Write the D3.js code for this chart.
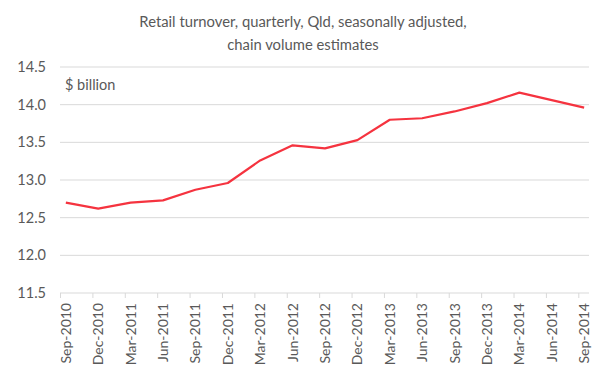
<!DOCTYPE html>
<html>
<head>
<meta charset="utf-8">
<script src="https://cdn.jsdelivr.net/npm/d3@7"></script>
<style>
  body { margin: 0; background: #fff; }
  svg text { font-family: Lato, "Open Sans", sans-serif; fill: #595959; }
</style>
</head>
<body>
<svg id="chart" width="604" height="377"></svg>
<script>
// quarter labels and values ($ billion)
var quarters = ['Sep-2010', 'Dec-2010', 'Mar-2011', 'Jun-2011', 'Sep-2011', 'Dec-2011',
	'Mar-2012', 'Jun-2012', 'Sep-2012', 'Dec-2012', 'Mar-2013', 'Jun-2013',
	'Sep-2013', 'Dec-2013', 'Mar-2014', 'Jun-2014', 'Sep-2014'];
var turnover = [12.70, 12.62, 12.70, 12.73, 12.87, 12.96,
	13.26, 13.46, 13.42, 13.53, 13.80, 13.82,
	13.91, 14.02, 14.16, 14.06, 13.96];
var yTicks = [11.5, 12.0, 12.5, 13.0, 13.5, 14.0, 14.5];
var titleLines = ['Retail turnover, quarterly, Qld, seasonally adjusted,', 'chain volume estimates'];
var unitLabel = '$ billion';

var chart = {
	left: 60,
	right: 589,
	top: 67,
	bottom: 293,
	init: function() {
		var svg = d3.select('#chart');

		// index scale: ticks on whole quarters, points sit a bit after the tick
		var x = d3.scaleLinear()
			.domain([0, quarters.length - 0.67])
			.range([chart.left, chart.right]);
		var shift = 0.18;

		var y = d3.scaleLinear()
			.domain([11.5, 14.5])
			.range([chart.bottom, chart.top]);

		// title
		svg.selectAll('text.title')
			.data(titleLines)
			.enter().append('text')
			.attr('class', 'title')
			.attr('x', 303)
			.attr('y', function(d, i) { return 27 + i * 23; })
			.attr('text-anchor', 'middle')
			.style('font-size', '14.8px')
			.text(function(d) { return d; });

		// gridlines
		svg.append('g')
			.selectAll('line')
			.data(yTicks.slice(1))
			.enter().append('line')
			.attr('x1', chart.left)
			.attr('x2', chart.right)
			.attr('y1', function(d) { return y(d); })
			.attr('y2', function(d) { return y(d); })
			.attr('stroke', '#d9d9d9')
			.attr('stroke-width', 1);

		// y labels
		var yAxis = svg.append('g')
			.attr('transform', 'translate(' + chart.left + ',0)')
			.call(d3.axisLeft(y).tickValues(yTicks).tickSize(0).tickPadding(14).tickFormat(d3.format('.1f')));
		yAxis.select('.domain').remove();
		yAxis.selectAll('text')
			.style('font-size', '14.5px')
			.attr('fill', '#595959');

		// x axis
		var xAxis = svg.append('g')
			.attr('transform', 'translate(0,' + chart.bottom + ')')
			.call(d3.axisBottom(x).tickValues(d3.range(quarters.length)).tickSize(5).tickFormat(''));
		xAxis.select('.domain')
			.attr('stroke', '#d9d9d9')
			.attr('d', 'M' + chart.left + ',0H' + chart.right);
		xAxis.selectAll('.tick line').attr('stroke', '#d9d9d9');

		svg.append('g')
			.selectAll('text')
			.data(quarters)
			.enter().append('text')
			.attr('transform', function(d, i) {
				return 'translate(' + (x(i + shift) + 5) + ',' + (chart.bottom + 10) + ')rotate(-90)';
			})
			.attr('text-anchor', 'end')
			.style('font-size', '14px')
			.text(function(d) { return d; });

		// unit
		svg.append('text')
			.attr('x', 65)
			.attr('y', 90)
			.style('font-size', '14.5px')
			.text(unitLabel);

		// the line
		var line = d3.line()
			.x(function(d, i) { return x(i + shift); })
			.y(function(d) { return y(d); });

		svg.append('path')
			.datum(turnover)
			.attr('d', line)
			.attr('fill', 'none')
			.attr('stroke', '#f5333f')
			.attr('stroke-width', 2.2)
			.attr('stroke-linejoin', 'round');
	}
};

chart.init();
</script>
</body>
</html>
